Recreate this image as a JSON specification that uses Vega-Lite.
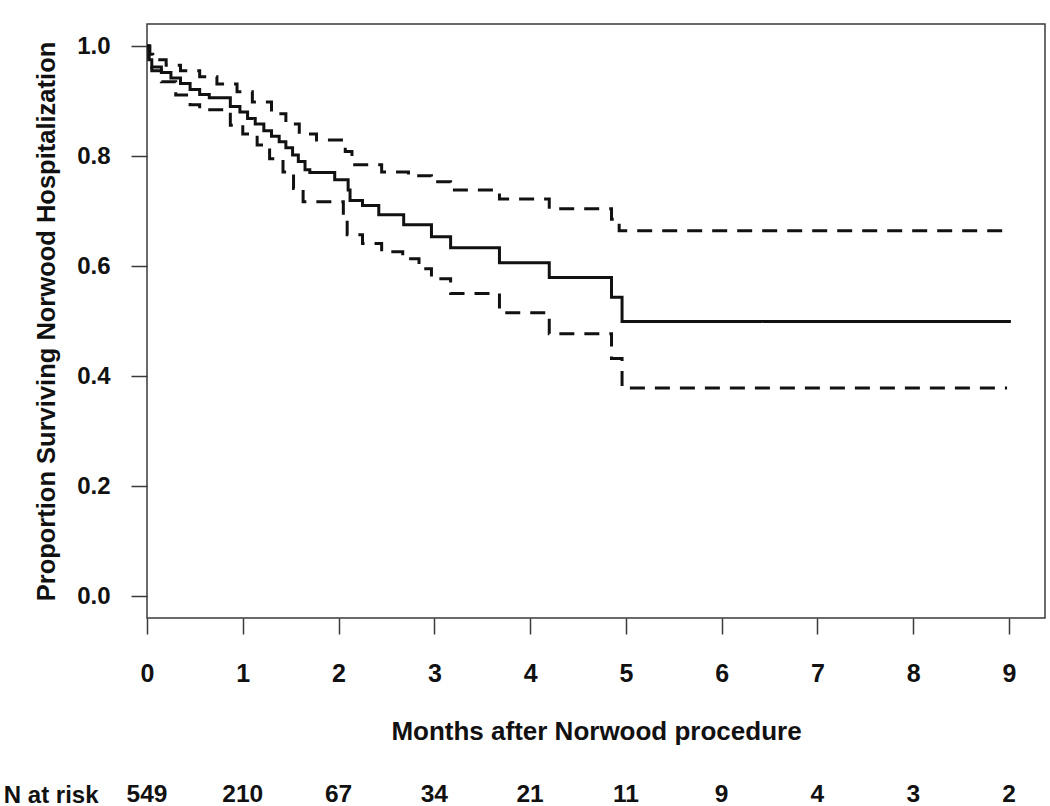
{
  "$schema": "https://vega.github.io/schema/vega-lite/v6.json",
  "padding": {"top": 23, "left": 3, "right": 5, "bottom": 0},
  "background": "white",
  "config": {"font": "Liberation Sans", "view": {"stroke": null}},
  "spacing": 37,
  "datasets": {
    "curves": [
      {"series": "Estimate", "m": 0.0, "v": 1.0},
      {"series": "Estimate", "m": 0.02, "v": 0.975},
      {"series": "Estimate", "m": 0.05, "v": 0.962},
      {"series": "Estimate", "m": 0.15, "v": 0.952},
      {"series": "Estimate", "m": 0.25, "v": 0.942},
      {"series": "Estimate", "m": 0.35, "v": 0.932},
      {"series": "Estimate", "m": 0.45, "v": 0.921},
      {"series": "Estimate", "m": 0.55, "v": 0.912},
      {"series": "Estimate", "m": 0.65, "v": 0.906},
      {"series": "Estimate", "m": 0.87, "v": 0.89},
      {"series": "Estimate", "m": 0.97, "v": 0.88},
      {"series": "Estimate", "m": 1.05, "v": 0.868},
      {"series": "Estimate", "m": 1.13, "v": 0.858},
      {"series": "Estimate", "m": 1.22, "v": 0.846},
      {"series": "Estimate", "m": 1.3, "v": 0.836},
      {"series": "Estimate", "m": 1.38, "v": 0.826},
      {"series": "Estimate", "m": 1.45, "v": 0.815},
      {"series": "Estimate", "m": 1.52, "v": 0.802},
      {"series": "Estimate", "m": 1.58, "v": 0.79},
      {"series": "Estimate", "m": 1.65, "v": 0.775},
      {"series": "Estimate", "m": 1.7, "v": 0.77},
      {"series": "Estimate", "m": 1.96, "v": 0.757},
      {"series": "Estimate", "m": 2.1, "v": 0.738},
      {"series": "Estimate", "m": 2.12, "v": 0.719},
      {"series": "Estimate", "m": 2.25, "v": 0.71},
      {"series": "Estimate", "m": 2.42, "v": 0.693},
      {"series": "Estimate", "m": 2.68, "v": 0.675},
      {"series": "Estimate", "m": 2.97, "v": 0.653},
      {"series": "Estimate", "m": 3.17, "v": 0.633},
      {"series": "Estimate", "m": 3.68, "v": 0.606},
      {"series": "Estimate", "m": 4.2, "v": 0.579},
      {"series": "Estimate", "m": 4.85, "v": 0.543},
      {"series": "Estimate", "m": 4.96, "v": 0.499},
      {"series": "Estimate", "m": 9.02, "v": 0.499},
      {"series": "Upper", "m": 0.0, "v": 1.0},
      {"series": "Upper", "m": 0.03, "v": 0.985},
      {"series": "Upper", "m": 0.06, "v": 0.975},
      {"series": "Upper", "m": 0.2, "v": 0.965},
      {"series": "Upper", "m": 0.35, "v": 0.955},
      {"series": "Upper", "m": 0.55, "v": 0.944},
      {"series": "Upper", "m": 0.73, "v": 0.931},
      {"series": "Upper", "m": 0.94, "v": 0.917},
      {"series": "Upper", "m": 1.1, "v": 0.898},
      {"series": "Upper", "m": 1.3, "v": 0.877},
      {"series": "Upper", "m": 1.45, "v": 0.858},
      {"series": "Upper", "m": 1.59, "v": 0.84},
      {"series": "Upper", "m": 1.77, "v": 0.829},
      {"series": "Upper", "m": 2.07, "v": 0.808},
      {"series": "Upper", "m": 2.14, "v": 0.784},
      {"series": "Upper", "m": 2.45, "v": 0.771},
      {"series": "Upper", "m": 2.73, "v": 0.764},
      {"series": "Upper", "m": 2.97, "v": 0.753},
      {"series": "Upper", "m": 3.17, "v": 0.738},
      {"series": "Upper", "m": 3.68, "v": 0.722},
      {"series": "Upper", "m": 4.2, "v": 0.704},
      {"series": "Upper", "m": 4.85, "v": 0.685},
      {"series": "Upper", "m": 4.93, "v": 0.664},
      {"series": "Upper", "m": 9.0, "v": 0.664},
      {"series": "Lower", "m": 0.0, "v": 1.0},
      {"series": "Lower", "m": 0.02, "v": 0.97},
      {"series": "Lower", "m": 0.05, "v": 0.955},
      {"series": "Lower", "m": 0.15, "v": 0.935},
      {"series": "Lower", "m": 0.3, "v": 0.911},
      {"series": "Lower", "m": 0.45, "v": 0.893},
      {"series": "Lower", "m": 0.55, "v": 0.884},
      {"series": "Lower", "m": 0.87, "v": 0.856},
      {"series": "Lower", "m": 1.0, "v": 0.84},
      {"series": "Lower", "m": 1.15, "v": 0.82},
      {"series": "Lower", "m": 1.28, "v": 0.795},
      {"series": "Lower", "m": 1.42, "v": 0.771},
      {"series": "Lower", "m": 1.53, "v": 0.741},
      {"series": "Lower", "m": 1.63, "v": 0.717},
      {"series": "Lower", "m": 2.05, "v": 0.69},
      {"series": "Lower", "m": 2.09, "v": 0.657},
      {"series": "Lower", "m": 2.25, "v": 0.641},
      {"series": "Lower", "m": 2.45, "v": 0.626},
      {"series": "Lower", "m": 2.67, "v": 0.613},
      {"series": "Lower", "m": 2.84, "v": 0.595},
      {"series": "Lower", "m": 2.97, "v": 0.577},
      {"series": "Lower", "m": 3.17, "v": 0.55},
      {"series": "Lower", "m": 3.68, "v": 0.515},
      {"series": "Lower", "m": 4.2, "v": 0.477},
      {"series": "Lower", "m": 4.85, "v": 0.432},
      {"series": "Lower", "m": 4.96, "v": 0.378},
      {"series": "Lower", "m": 8.98, "v": 0.378}
    ],
    "risk": [
      {"row": "N at risk", "m": 0, "n": "549"},
      {"row": "N at risk", "m": 1, "n": "210"},
      {"row": "N at risk", "m": 2, "n": "67"},
      {"row": "N at risk", "m": 3, "n": "34"},
      {"row": "N at risk", "m": 4, "n": "21"},
      {"row": "N at risk", "m": 5, "n": "11"},
      {"row": "N at risk", "m": 6, "n": "9"},
      {"row": "N at risk", "m": 7, "n": "4"},
      {"row": "N at risk", "m": 8, "n": "3"},
      {"row": "N at risk", "m": 9, "n": "2"}
    ]
  },
  "vconcat": [
    {
      "width": 898,
      "height": 594,
      "view": {"stroke": "#3a3a3a", "strokeWidth": 1.5},
      "data": {"name": "curves"},
      "mark": {"type": "line", "interpolate": "step-after", "color": "#111111", "strokeWidth": 3},
      "encoding": {
        "x": {
          "field": "m", "type": "quantitative",
          "scale": {"domain": [0, 9.376], "nice": false, "zero": false},
          "axis": {
            "values": [0, 1, 2, 3, 4, 5, 6, 7, 8, 9],
            "format": "d",
            "domain": false, "grid": false,
            "tickSize": 16, "tickColor": "#3a3a3a", "tickWidth": 1.5,
            "labelFontSize": 25, "labelFontWeight": "bold", "labelColor": "#111111",
            "labelPadding": 27, "labelFlush": false,
            "title": "Months after Norwood procedure",
            "titleFontSize": 26, "titleFontWeight": "bold", "titleColor": "#111111",
            "titlePadding": 32
          }
        },
        "y": {
          "field": "v", "type": "quantitative",
          "scale": {"domain": [-0.04, 1.04], "nice": false, "zero": false},
          "axis": {
            "values": [0, 0.2, 0.4, 0.6, 0.8, 1.0],
            "format": ".1f",
            "domain": false, "grid": false,
            "tickSize": 16, "tickColor": "#3a3a3a", "tickWidth": 1.5,
            "labelFontSize": 24, "labelFontWeight": "bold", "labelColor": "#111111",
            "labelPadding": 21, "labelFlush": false,
            "title": "Proportion Surviving Norwood Hospitalization",
            "titleFontSize": 25.5, "titleFontWeight": "bold", "titleColor": "#111111",
            "titlePadding": 17
          }
        },
        "strokeDash": {
          "field": "series", "type": "nominal",
          "scale": {"domain": ["Estimate", "Upper", "Lower"], "range": [[1, 0], [15, 10], [15, 10]]},
          "legend": null
        },
        "detail": {"field": "series", "type": "nominal"}
      }
    },
    {
      "width": 898,
      "height": 24,
      "data": {"name": "risk"},
      "mark": {"type": "text", "fontSize": 24.5, "fontWeight": "bold", "color": "#111111", "baseline": "middle", "align": "center"},
      "encoding": {
        "x": {
          "field": "m", "type": "quantitative",
          "scale": {"domain": [0, 9.376], "nice": false, "zero": false},
          "axis": null
        },
        "y": {
          "field": "row", "type": "nominal",
          "axis": {
            "title": null, "domain": false, "ticks": false,
            "labelFontSize": 24, "labelFontWeight": "bold", "labelColor": "#111111",
            "labelPadding": 49
          }
        },
        "text": {"field": "n", "type": "nominal"}
      }
    }
  ]
}
